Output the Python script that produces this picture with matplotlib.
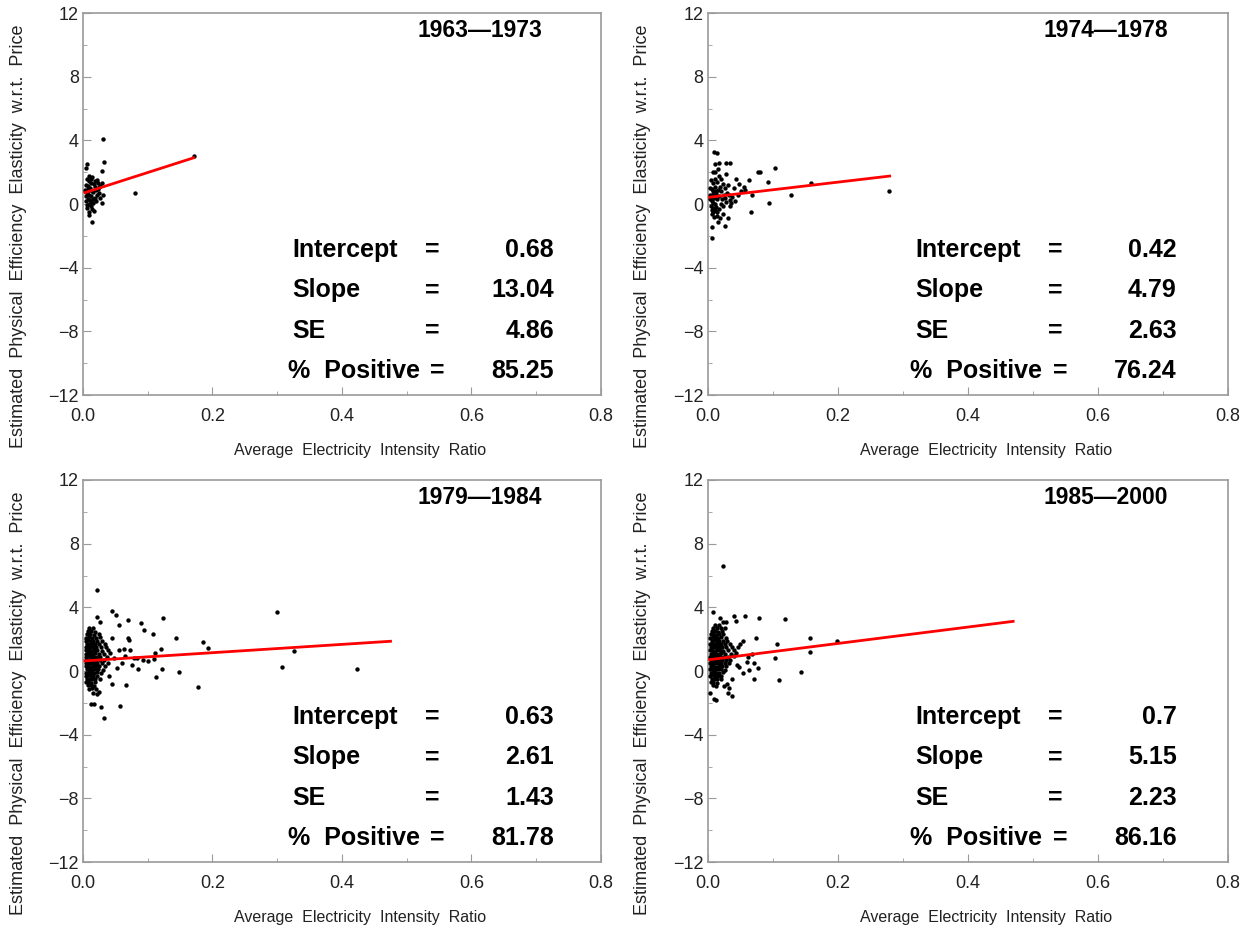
import numpy as np
import matplotlib.pyplot as plt
from matplotlib.ticker import MultipleLocator, FormatStrFormatter

plt.rcParams['font.family'] = ['Liberation Sans', 'DejaVu Sans']

frame_color = '#9a9a9a'

# Periods and regression statistics shown in each panel
periods = ['1963\u20141973', '1974\u20141978', '1979\u20141984', '1985\u20142000']
intercepts = [0.68, 0.42, 0.63, 0.7]
slopes = [13.04, 4.79, 2.61, 5.15]
std_errs = [4.86, 2.63, 1.43, 2.23]
pct_positive = [85.25, 76.24, 81.78, 86.16]
line_start = [0.003, 0.003, 0.003, 0.003]
line_end = [0.171, 0.28, 0.475, 0.47]

# Scatter points (x = avg electricity intensity ratio, y = elasticity)
pts_1963 = [
    (0.031, 4.06), (0.033, 2.67), (0.029, 2.06), (0.171, 3.0), (0.081, 0.71), (0.030, 0.04),
    (0.031, 0.58), (0.014, -1.15), (0.010, -0.67), (0.006, 2.5), (0.004, 2.25),
    (0.006, 1.6), (0.009, 1.45), (0.012, 1.35), (0.008, 1.15), (0.011, 1.0), (0.014, 0.85),
    (0.006, 0.7), (0.010, 0.6), (0.013, 0.5), (0.008, 0.35), (0.011, 0.25), (0.015, 0.1),
    (0.009, 0.0), (0.012, -0.15), (0.006, -0.25), (0.014, -0.3), (0.017, 1.25), (0.019, 1.1),
    (0.023, 0.95), (0.027, 1.15), (0.029, 1.3), (0.022, 0.6), (0.025, 0.7), (0.018, 0.4),
    (0.020, 0.2), (0.005, 0.2), (0.004, 0.5), (0.027, 0.4), (0.023, 1.35), (0.014, 1.7),
    (0.010, 1.75), (0.007, 0.95), (0.016, 0.75), (0.013, 1.55), (0.005, 1.2), (0.017, -0.45),
    (0.010, -0.5), (0.020, 0.9), (0.024, 1.1), (0.008, 0.8), (0.012, 0.15), (0.016, 0.3),
    (0.006, -0.05), (0.018, 1.45), (0.021, 1.5), (0.003, 0.9),
]

pts_1974 = [
    (0.010, 3.3), (0.014, 3.2), (0.012, 2.5), (0.018, 2.6), (0.028, 2.6), (0.035, 2.6),
    (0.009, 2.03), (0.028, 1.86), (0.044, 1.58), (0.048, 1.28), (0.064, 1.5), (0.077, 2.0),
    (0.080, 2.02), (0.103, 2.25), (0.093, 1.37), (0.056, 1.07), (0.069, 0.58), (0.128, 0.58),
    (0.094, 0.09), (0.066, -0.47), (0.034, 0.26), (0.032, -0.86), (0.027, -1.4), (0.007, -1.45),
    (0.007, -2.1), (0.016, -1.1), (0.023, -0.6), (0.159, 1.3), (0.279, 0.84),
    (0.005, 1.5), (0.008, 1.3), (0.011, 1.1), (0.006, 0.95), (0.009, 0.8), (0.013, 0.7),
    (0.004, 0.6), (0.007, 0.5), (0.010, 0.4), (0.014, 0.3), (0.006, 0.2), (0.009, 0.1),
    (0.012, 0.0), (0.005, -0.1), (0.008, -0.25), (0.011, -0.35), (0.015, -0.5), (0.007, -0.6),
    (0.010, -0.8), (0.013, -0.2), (0.016, 0.9), (0.019, 1.1), (0.021, 0.8), (0.018, 0.5),
    (0.022, 0.3), (0.025, 0.6), (0.020, 0.0), (0.017, -0.3), (0.024, -0.1), (0.027, 0.4),
    (0.030, 0.7), (0.033, 0.55), (0.038, 0.45), (0.042, 0.2), (0.029, 0.15), (0.036, 0.1),
    (0.015, 1.4), (0.012, 1.6), (0.018, 1.75), (0.004, 1.0), (0.003, 0.3), (0.006, -0.35),
    (0.009, -0.5), (0.014, -0.75), (0.019, -0.9), (0.023, 1.25), (0.026, 1.0), (0.011, 2.0),
    (0.016, 2.2), (0.020, 1.55), (0.031, 1.2), (0.040, 1.0), (0.046, 0.6), (0.052, 0.8),
    (0.058, 0.9), (0.035, -0.1), (0.005, 0.45), (0.008, 0.65), (0.012, 0.85),
]

pts_1979 = [
    (0.021, 5.1), (0.045, 3.8), (0.051, 3.5), (0.022, 3.4), (0.026, 3.06), (0.070, 3.2),
    (0.089, 3.0), (0.094, 2.6), (0.108, 2.3), (0.124, 3.3), (0.056, 2.9), (0.143, 2.08),
    (0.185, 1.83), (0.193, 1.42), (0.299, 3.71), (0.326, 1.29), (0.307, 0.27), (0.424, 0.15),
    (0.178, -1.02), (0.149, -0.04), (0.122, 0.1), (0.112, -0.38), (0.120, 1.4), (0.111, 1.15),
    (0.066, -0.88), (0.057, -2.19), (0.032, -2.98), (0.028, -2.25), (0.012, -2.04), (0.017, -2.1),
    (0.025, -1.29), (0.045, -0.79), (0.070, 2.1), (0.071, 1.95), (0.045, 2.1), (0.038, 1.3),
    (0.056, 1.3), (0.063, 1.4), (0.073, 1.35), (0.079, 0.8), (0.084, 0.85), (0.076, 0.4),
    (0.110, 0.73), (0.092, 0.7), (0.100, 0.65), (0.060, 0.5), (0.052, 0.2), (0.040, -0.3),
    (0.085, 0.15), (0.065, 0.95), (0.048, 0.8),
    (0.010, 2.7), (0.015, 2.68), (0.008, 2.5), (0.013, 2.52), (0.019, 2.47),
    (0.006, 2.3), (0.011, 2.32), (0.017, 2.28), (0.024, 2.31),
    (0.005, 2.1), (0.009, 2.12), (0.014, 2.08), (0.020, 2.1), (0.027, 2.11),
    (0.004, 1.9), (0.008, 1.92), (0.012, 1.88), (0.016, 1.9), (0.022, 1.91), (0.030, 1.89),
    (0.006, 1.7), (0.010, 1.72), (0.014, 1.68), (0.018, 1.7), (0.025, 1.71), (0.034, 1.69),
    (0.004, 1.5), (0.008, 1.52), (0.012, 1.48), (0.016, 1.5), (0.020, 1.51), (0.028, 1.49), (0.036, 1.5),
    (0.005, 1.3), (0.009, 1.32), (0.013, 1.28), (0.017, 1.3), (0.022, 1.31), (0.030, 1.29),
    (0.004, 1.1), (0.007, 1.12), (0.011, 1.08), (0.015, 1.1), (0.019, 1.11), (0.024, 1.09), (0.033, 1.1), (0.041, 1.12),
    (0.005, 0.9), (0.009, 0.92), (0.013, 0.88), (0.017, 0.9), (0.021, 0.91), (0.027, 0.89), (0.037, 0.9),
    (0.004, 0.7), (0.008, 0.72), (0.012, 0.68), (0.016, 0.7), (0.020, 0.71), (0.026, 0.69), (0.032, 0.7),
    (0.005, 0.5), (0.009, 0.52), (0.013, 0.48), (0.017, 0.5), (0.022, 0.51), (0.029, 0.49), (0.039, 0.5),
    (0.004, 0.3), (0.008, 0.32), (0.012, 0.28), (0.016, 0.3), (0.020, 0.31), (0.025, 0.29), (0.034, 0.3),
    (0.006, 0.1), (0.010, 0.12), (0.014, 0.08), (0.018, 0.1), (0.023, 0.11), (0.031, 0.09),
    (0.005, -0.1), (0.009, -0.08), (0.013, -0.12), (0.017, -0.1), (0.022, -0.09), (0.028, -0.11),
    (0.004, -0.3), (0.008, -0.28), (0.012, -0.32), (0.016, -0.3), (0.021, -0.29),
    (0.006, -0.5), (0.010, -0.48), (0.014, -0.52), (0.019, -0.5), (0.026, -0.49),
    (0.005, -0.7), (0.009, -0.68), (0.013, -0.72), (0.018, -0.7),
    (0.007, -0.9), (0.012, -0.88), (0.017, -0.92),
    (0.009, -1.1), (0.014, -1.08), (0.020, -1.12),
    (0.016, -1.4), (0.022, -1.42),
]

pts_1985 = [
    (0.023, 6.58), (0.009, 3.73), (0.019, 3.33), (0.023, 3.06), (0.028, 3.06), (0.041, 3.44),
    (0.044, 3.17), (0.058, 3.44), (0.079, 3.33), (0.119, 3.27), (0.074, 2.07), (0.055, 1.88),
    (0.107, 1.72), (0.158, 2.09), (0.199, 1.88), (0.157, 1.22), (0.104, 0.83), (0.072, 0.48),
    (0.077, 0.17), (0.143, -0.04), (0.110, -0.56), (0.072, -0.5), (0.033, -1.08), (0.037, -1.55),
    (0.032, -1.39), (0.004, -1.35), (0.010, -1.76), (0.013, -1.84), (0.025, -0.97), (0.049, 0.27),
    (0.054, -0.14), (0.064, 0.06), (0.062, 0.9), (0.068, 1.1), (0.046, 1.5), (0.050, 1.7),
    (0.040, 1.3), (0.060, 0.55), (0.045, 0.4), (0.037, -0.5), (0.030, -0.8),
    (0.012, 2.9), (0.018, 2.92),
    (0.009, 2.7), (0.014, 2.72), (0.020, 2.68), (0.026, 2.7),
    (0.006, 2.5), (0.011, 2.52), (0.016, 2.48), (0.022, 2.5),
    (0.005, 2.3), (0.009, 2.32), (0.013, 2.28), (0.018, 2.3), (0.024, 2.31),
    (0.004, 2.1), (0.008, 2.12), (0.012, 2.08), (0.016, 2.1), (0.021, 2.11), (0.028, 2.09),
    (0.006, 1.9), (0.010, 1.92), (0.014, 1.88), (0.018, 1.9), (0.023, 1.91), (0.030, 1.89),
    (0.004, 1.7), (0.008, 1.72), (0.012, 1.68), (0.016, 1.7), (0.020, 1.71), (0.026, 1.69), (0.034, 1.7),
    (0.005, 1.5), (0.009, 1.52), (0.013, 1.48), (0.017, 1.5), (0.022, 1.51), (0.029, 1.49), (0.038, 1.5),
    (0.004, 1.3), (0.007, 1.32), (0.011, 1.28), (0.015, 1.3), (0.019, 1.31), (0.024, 1.29), (0.032, 1.3),
    (0.005, 1.1), (0.009, 1.12), (0.013, 1.08), (0.017, 1.1), (0.021, 1.11), (0.027, 1.09), (0.036, 1.1), (0.043, 1.12),
    (0.004, 0.9), (0.008, 0.92), (0.012, 0.88), (0.016, 0.9), (0.020, 0.91), (0.025, 0.89), (0.031, 0.9), (0.040, 0.92),
    (0.005, 0.7), (0.009, 0.72), (0.013, 0.68), (0.017, 0.7), (0.022, 0.71), (0.028, 0.69), (0.035, 0.7),
    (0.004, 0.5), (0.008, 0.52), (0.012, 0.48), (0.016, 0.5), (0.020, 0.51), (0.026, 0.49), (0.033, 0.5),
    (0.005, 0.3), (0.009, 0.32), (0.013, 0.28), (0.017, 0.3), (0.022, 0.31), (0.029, 0.29),
    (0.004, 0.1), (0.008, 0.12), (0.012, 0.08), (0.016, 0.1), (0.021, 0.11), (0.027, 0.09),
    (0.005, -0.1), (0.009, -0.08), (0.013, -0.12), (0.018, -0.1), (0.024, -0.09),
    (0.004, -0.3), (0.008, -0.28), (0.012, -0.32), (0.016, -0.3), (0.021, -0.29),
    (0.006, -0.5), (0.010, -0.48), (0.015, -0.52), (0.020, -0.5),
    (0.005, -0.7), (0.009, -0.68), (0.014, -0.72),
    (0.008, -0.9), (0.013, -0.92),
]

all_points = [pts_1963, pts_1974, pts_1979, pts_1985]

fig = plt.figure(figsize=(12.48, 9.32), dpi=100)
positions = [
    [0.0665, 0.576, 0.415, 0.41],
    [0.567, 0.576, 0.4167, 0.41],
    [0.0665, 0.075, 0.415, 0.41],
    [0.567, 0.075, 0.4167, 0.41],
]
# text anchors in axes fraction (left panels vs right panels)
label_x = [0.405, 0.40, 0.405, 0.40]
eq_x = [0.674, 0.669, 0.674, 0.669]
val_x = [0.909, 0.902, 0.909, 0.902]
row_y = [0.38, 0.274, 0.169, 0.064]

for i in range(4):
    ax = fig.add_axes(positions[i])
    pts = np.array(all_points[i])
    ax.scatter(pts[:, 0], pts[:, 1], s=10, color='black', marker='o', linewidths=0, zorder=3)

    # fitted regression line
    xl = np.array([line_start[i], line_end[i]])
    ax.plot(xl, intercepts[i] + slopes[i] * xl, color='red', linewidth=2.0, zorder=4)

    ax.set_xlim(0, 0.8)
    ax.set_ylim(-12, 12)
    ax.xaxis.set_major_locator(MultipleLocator(0.2))
    ax.xaxis.set_minor_locator(MultipleLocator(0.1))
    ax.xaxis.set_major_formatter(FormatStrFormatter('%.1f'))
    ax.yaxis.set_major_locator(MultipleLocator(4))
    ax.yaxis.set_minor_locator(MultipleLocator(2))
    ax.tick_params(which='both', direction='in', color=frame_color, labelsize=13,
                   labelcolor='#222222', top=False, right=False)
    ax.tick_params(which='major', length=6)
    ax.tick_params(which='minor', length=3)
    ax.tick_params(axis='x', pad=9)
    ax.tick_params(axis='y', pad=3)
    for sp in ax.spines.values():
        sp.set_color(frame_color)
        sp.set_linewidth(1.2)

    ax.text(0.535, -0.145, 'Average  Electricity  Intensity  Ratio', transform=ax.transAxes,
            ha='center', va='center', fontsize=11.5, color='#222222')
    ax.text(-0.125, 0.416, 'Estimated  Physical  Efficiency  Elasticity  w.r.t.  Price',
            transform=ax.transAxes, rotation=90, ha='center', va='center', fontsize=13,
            color='#222222')

    ax.text(0.766, 0.955, periods[i], transform=ax.transAxes, ha='center', va='center',
            fontsize=16.5, fontweight='bold')

    names = ['Intercept', 'Slope', 'SE', '%  Positive']
    vals = [f'{intercepts[i]:g}', f'{slopes[i]:.2f}', f'{std_errs[i]:.2f}', f'{pct_positive[i]:.2f}']
    for r in range(4):
        lx = label_x[i] - (0.01 if r == 3 else 0)
        ex = eq_x[i] + (0.01 if r == 3 else 0)
        ax.text(lx, row_y[r], names[r], transform=ax.transAxes, ha='left', va='center',
                fontsize=18, fontweight='bold')
        ax.text(ex, row_y[r], '=', transform=ax.transAxes, ha='center', va='center',
                fontsize=18, fontweight='bold')
        ax.text(val_x[i], row_y[r], vals[r], transform=ax.transAxes, ha='right', va='center',
                fontsize=18, fontweight='bold')

fig.savefig('out.png', dpi=100)
